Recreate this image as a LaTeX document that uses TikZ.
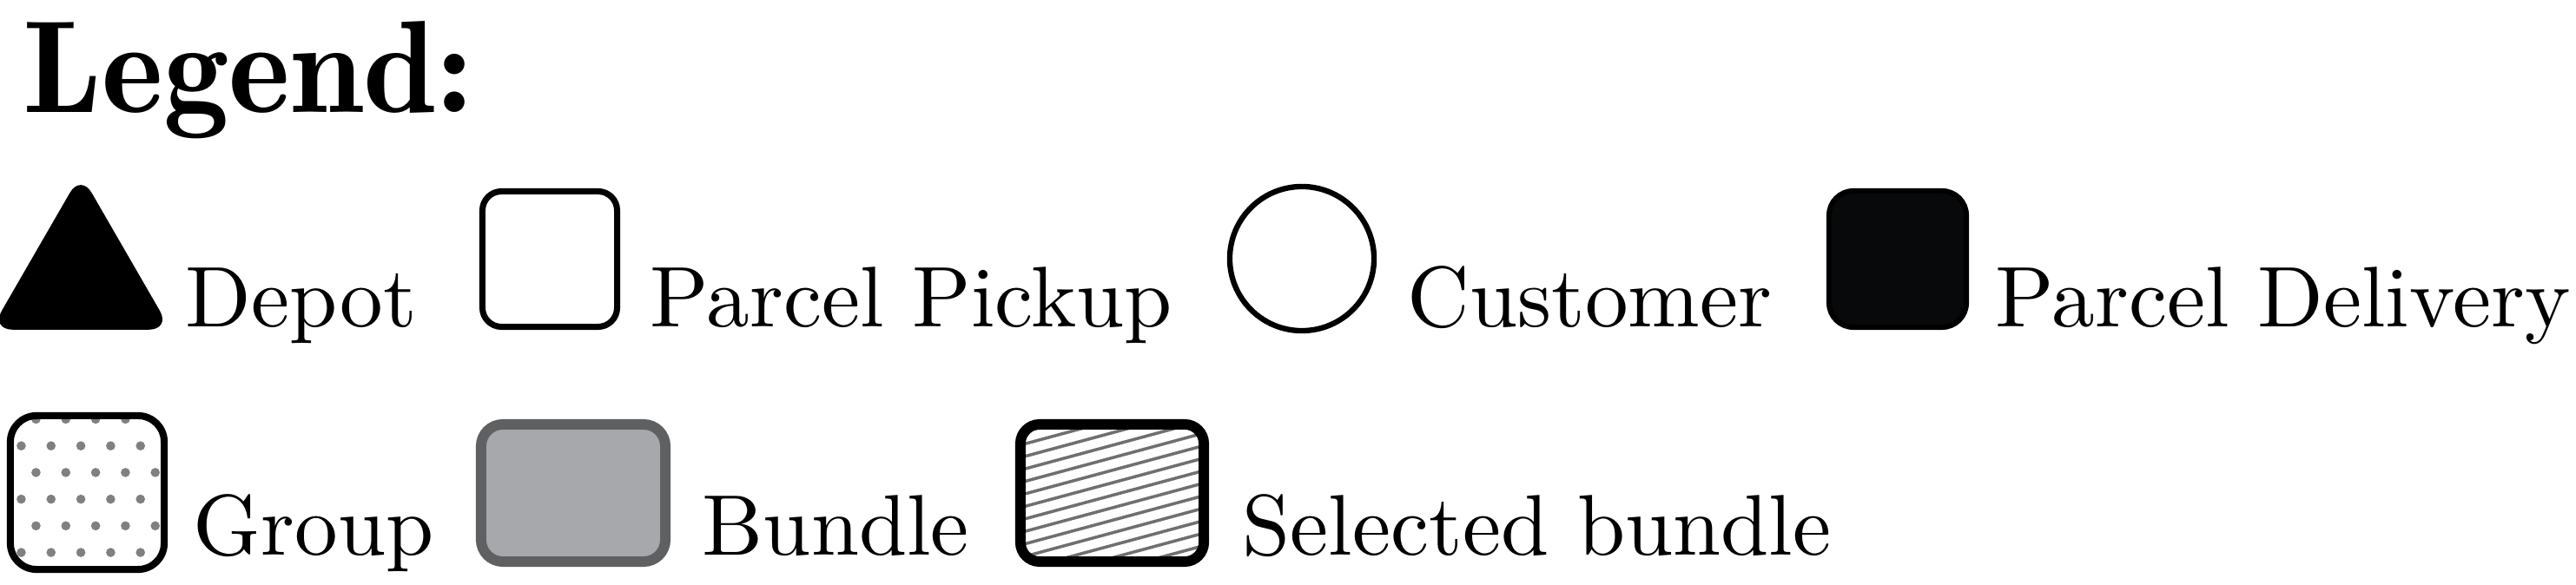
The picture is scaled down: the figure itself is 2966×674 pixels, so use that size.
\documentclass[tikz,border=0pt]{standalone}
\usetikzlibrary{shapes.geometric}

\definecolor{bundlefill}{HTML}{A7A8AB}
\definecolor{bundleline}{HTML}{5F6062}
\definecolor{dotgray}{HTML}{808080}
\definecolor{hatchgray}{HTML}{6F6F6F}
\definecolor{deliveryfill}{HTML}{08090B}

% body text in the 10pt design, set large
\font\legendfont="[lmroman10-regular]:mapping=tex-text" at 28.2pt

\begin{document}
\begin{tikzpicture}[x=0.01cm, y=-0.01cm,
    legendtext/.style={anchor=base west, inner sep=0pt, font=\legendfont},
    symbol/.style={inner sep=0pt, outer sep=0pt}]

    \useasboundingbox (0, 0) rectangle (2966, 674);

    \node [anchor=base west, inner sep=0pt, font=\fontsize{43}{52}\fontseries{b}\selectfont] (title) at (26, 130) {Legend:};

    % first row
    \node [symbol, regular polygon, regular polygon sides=3, fill=black, rounded corners=0.25cm, minimum size=2.39cm] (depot) at (93, 320) {};
    \node [symbol, draw, line width=2pt, rounded corners=0.22cm, minimum width=1.55cm, minimum height=1.56cm] (pickup) at (633, 298.5) {};
    \node [symbol, draw, circle, line width=1.8pt, minimum size=1.66cm] (customer) at (1499, 298) {};
    \node [symbol, draw, fill=deliveryfill, line width=1.7pt, rounded corners=0.28cm, minimum width=1.58cm, minimum height=1.57cm] (delivery) at (2185, 298.5) {};

    \node [legendtext] (depotlabel) at (213, 377) {Depot};
    \node [legendtext] (pickuplabel) at (748, 377) {Parcel Pickup};
    \node [legendtext] (customerlabel) at (1620, 377) {Customer};
    \node [legendtext] (deliverylabel) at (2297, 377) {Parcel Delivery};

    % second row
    \node [symbol, draw, line width=2.3pt, rounded corners=0.3cm, minimum size=1.77cm,
        path picture={
            \foreach \i in {0,...,5}{
                \pgfmathsetmacro{\xs}{isodd(\i) ? -0.76 : -0.59}
                \foreach \j in {0,...,5}{
                    \fill [dotgray] ([shift={(\xs cm + \j*0.343cm, 0.845cm - \i*0.307cm)}] path picture bounding box.center) circle (0.053cm);
                }
            }
        }] (group) at (100.5, 567.5) {};
    \node [symbol, draw=bundleline, fill=bundlefill, line width=3.4pt, rounded corners=0.25cm, minimum width=2.12cm, minimum height=1.58cm] (bundle) at (660, 568) {};
    \node [symbol, draw, line width=3.4pt, rounded corners=0.22cm, minimum width=2.11cm, minimum height=1.58cm,
        path picture={
            \foreach \k in {-12,...,12}{
                \draw [hatchgray, line width=1pt] ([shift={(-1.5cm, \k*0.144cm)}] path picture bounding box.center) -- ++(3cm, 0.81cm);
            }
        }] (selected) at (1280.5, 568) {};

    \node [legendtext] (grouplabel) at (222, 640) {Group};
    \node [legendtext] (bundlelabel) at (808, 640) {Bundle};
    \node [legendtext] (selectedlabel) at (1430, 640) {Selected bundle};

\end{tikzpicture}
\end{document}
